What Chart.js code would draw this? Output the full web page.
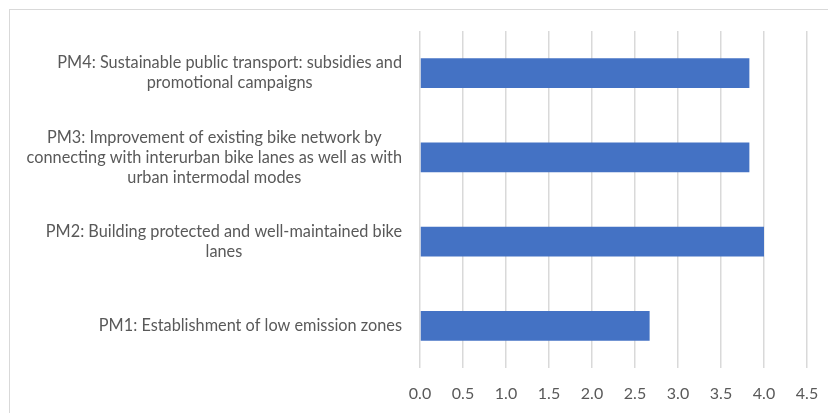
<!DOCTYPE html>
<html>
<head>
<meta charset="utf-8">
<script src="https://cdn.jsdelivr.net/npm/chart.js@4"></script>
<style>
  html, body { margin: 0; padding: 0; background: #ffffff; }
  #wrap { position: relative; width: 828px; height: 413px; }
</style>
</head>
<body>
<div id="wrap"><canvas id="chart" width="828" height="413"></canvas></div>
<script>
// Policy measures, each label pre-split into its display lines
const categories = [
  ["PM1: Establishment of low emission zones"],
  ["PM2: Building protected and well-maintained bike", "lanes"],
  ["PM3: Improvement of existing bike network by", "connecting with interurban bike lanes as well as with", "urban intermodal modes"],
  ["PM4: Sustainable public transport: subsidies and", "promotional campaigns"]
];
const scores = [2.67, 4.0, 3.83, 3.83];
const xTicks = [0, 0.5, 1, 1.5, 2, 2.5, 3, 3.5, 4, 4.5];

const FONT = "Lato, 'Open Sans', sans-serif";
const TEXT_COLOR = "#595959";
const GRID_COLOR = "#d9d9d9";

// Outer frame of the chart area
const framePlugin = {
  id: "frame",
  beforeDraw(chart) {
    const ctx = chart.ctx;
    ctx.save();
    ctx.fillStyle = "#ffffff";
    ctx.fillRect(0, 0, chart.width, chart.height);
    ctx.strokeStyle = GRID_COLOR;
    ctx.lineWidth = 1;
    ctx.strokeRect(9.5, 9.5, chart.width + 40, chart.height + 40);
    ctx.restore();
  }
};

// Category labels: a right-aligned block whose lines are centred on each other
const categoryLabelPlugin = {
  id: "categoryLabels",
  afterDraw(chart) {
    const ctx = chart.ctx;
    const yScale = chart.scales.y;
    const rightEdge = yScale.right - 18;
    const lineHeight = 20;
    ctx.save();
    ctx.font = "16.3px " + FONT;
    ctx.fillStyle = TEXT_COLOR;
    ctx.textAlign = "center";
    ctx.textBaseline = "middle";
    categories.forEach((lines, i) => {
      const y = yScale.getPixelForValue(i);
      const maxW = Math.max(...lines.map(l => ctx.measureText(l).width));
      const cx = rightEdge - maxW / 2;
      const y0 = y - (lines.length - 1) * lineHeight / 2;
      lines.forEach((line, k) => ctx.fillText(line, cx, y0 + k * lineHeight));
    });
    ctx.restore();
  }
};

new Chart(document.getElementById("chart"), {
  type: "bar",
  data: {
    labels: categories.map(c => c.join(" ")),
    datasets: [{
      data: scores,
      backgroundColor: "#4472c4",
      borderWidth: 0,
      barPercentage: 0.355,
      categoryPercentage: 1.0
    }]
  },
  options: {
    indexAxis: "y",
    responsive: false,
    animation: false,
    devicePixelRatio: 1,
    layout: { padding: { left: 0, top: 31, right: 21, bottom: 0 } },
    plugins: {
      legend: { display: false },
      tooltip: { enabled: false },
      title: { display: false }
    },
    scales: {
      x: {
        min: 0,
        max: 4.5,
        afterBuildTicks(scale) { scale.ticks = xTicks.map(v => ({ value: v })); },
        afterFit(scale) {
          scale.height = 45;
          scale.paddingLeft = 0;
          scale.paddingRight = 0;
        },
        ticks: {
          padding: 16,
          color: TEXT_COLOR,
          font: { family: FONT, size: 16 },
          callback: v => Number(v).toFixed(1)
        },
        grid: { color: GRID_COLOR, lineWidth: 1.5, drawTicks: false },
        border: { display: false }
      },
      y: {
        reverse: true,
        afterFit(scale) { scale.width = 420; },
        ticks: { display: false },
        grid: { display: false, drawTicks: false },
        border: { display: false }
      }
    }
  },
  plugins: [framePlugin, categoryLabelPlugin]
});
</script>
</body>
</html>
